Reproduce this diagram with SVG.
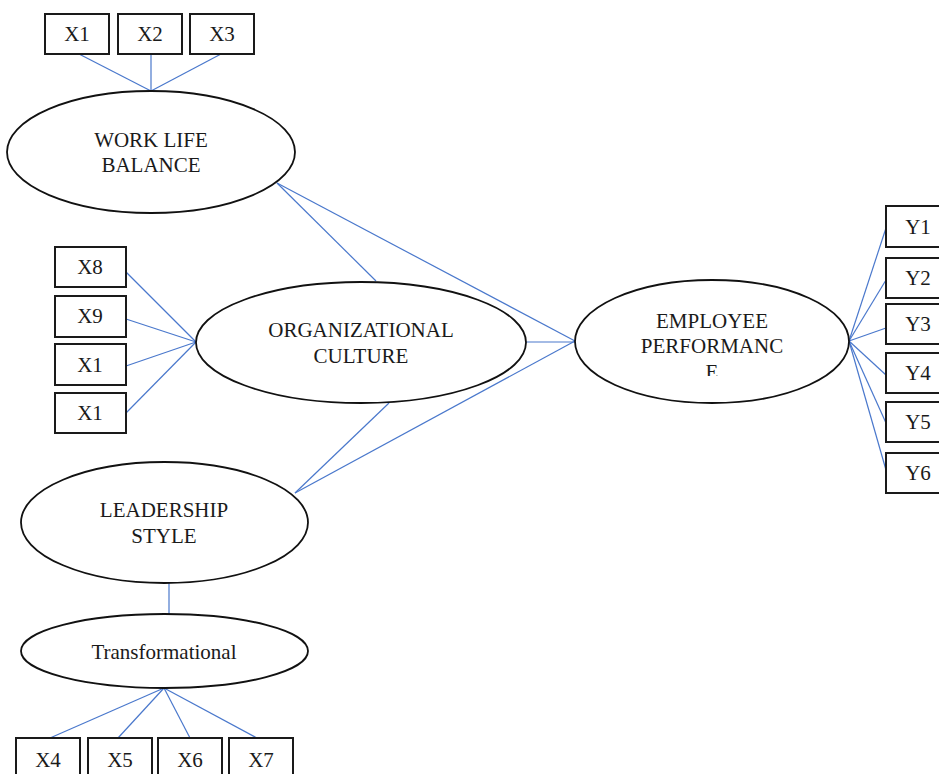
<svg xmlns="http://www.w3.org/2000/svg" width="939" height="774" viewBox="0 0 939 774">
<style>
.box{fill:#fff;stroke:#1a1a1a;stroke-width:2}
.ell{fill:#fff;stroke:#111;stroke-width:1.8}
.lbl{font-family:"Liberation Serif","Times New Roman",serif;font-size:21px;fill:#1a1a1a;text-anchor:middle}
.conn line{stroke:#4a78cc;stroke-width:1.2}
</style>
<defs>
<clipPath id="clipE"><rect x="570" y="280" width="290" height="96"/></clipPath>
</defs>
<rect width="939" height="774" fill="#fff"/>
<g class="conn" id="connectors">
<line x1="79" y1="54" x2="151" y2="91"/>
<line x1="151" y1="54" x2="151" y2="91"/>
<line x1="221" y1="54" x2="151" y2="91"/>
<line x1="277" y1="183" x2="376" y2="281"/>
<line x1="277" y1="183" x2="575" y2="341"/>
<line x1="126" y1="272" x2="196" y2="342"/>
<line x1="126" y1="319" x2="196" y2="342"/>
<line x1="126" y1="366" x2="196" y2="342"/>
<line x1="126" y1="413" x2="196" y2="342"/>
<line x1="526" y1="342" x2="575" y2="342"/>
<line x1="295" y1="493" x2="389" y2="403"/>
<line x1="295" y1="493" x2="575" y2="341"/>
<line x1="849" y1="341" x2="886" y2="228"/>
<line x1="849" y1="341" x2="886" y2="280"/>
<line x1="849" y1="341" x2="886" y2="328"/>
<line x1="849" y1="341" x2="886" y2="375"/>
<line x1="849" y1="341" x2="886" y2="423"/>
<line x1="849" y1="341" x2="886" y2="470"/>
<line x1="169" y1="583" x2="169" y2="614"/>
<line x1="164" y1="688" x2="50" y2="738"/>
<line x1="164" y1="688" x2="118" y2="738"/>
<line x1="164" y1="688" x2="190" y2="738"/>
<line x1="164" y1="688" x2="257" y2="738"/>
</g>
<g id="x1"><rect class="box" x="45" y="14" width="64" height="40"/><text class="lbl" x="77" y="41">X1</text></g>
<g id="x2"><rect class="box" x="118" y="14" width="64" height="40"/><text class="lbl" x="150" y="41">X2</text></g>
<g id="x3"><rect class="box" x="190" y="14" width="64" height="40"/><text class="lbl" x="222" y="41">X3</text></g>
<g id="wlb"><ellipse class="ell" cx="151" cy="152" rx="144" ry="61"/><text class="lbl" x="151" y="147">WORK LIFE</text><text class="lbl" x="151" y="172">BALANCE</text></g>
<g id="x8"><rect class="box" x="55" y="247" width="71" height="40"/><text class="lbl" x="90" y="274">X8</text></g>
<g id="x9"><rect class="box" x="55" y="296" width="71" height="41"/><text class="lbl" x="90" y="323">X9</text></g>
<g id="x10"><rect class="box" x="55" y="344" width="71" height="41"/><text class="lbl" x="90" y="372">X1</text></g>
<g id="x11"><rect class="box" x="55" y="393" width="71" height="40"/><text class="lbl" x="90" y="420">X1</text></g>
<g id="org"><ellipse class="ell" cx="361" cy="342.5" rx="165" ry="60.5"/><text class="lbl" x="361" y="337">ORGANIZATIONAL</text><text class="lbl" x="361" y="363">CULTURE</text></g>
<g id="emp"><ellipse class="ell" cx="712" cy="341.5" rx="137" ry="61.5"/><text class="lbl" x="712" y="328">EMPLOYEE</text><text class="lbl" x="712" y="353">PERFORMANC</text><text class="lbl" x="712" y="379" clip-path="url(#clipE)">E</text></g>
<g id="y1"><rect class="box" x="886" y="206" width="64" height="41"/><text class="lbl" x="918" y="234">Y1</text></g>
<g id="y2"><rect class="box" x="886" y="258" width="64" height="40"/><text class="lbl" x="918" y="285">Y2</text></g>
<g id="y3"><rect class="box" x="886" y="304" width="64" height="40"/><text class="lbl" x="918" y="331">Y3</text></g>
<g id="y4"><rect class="box" x="886" y="353" width="64" height="40"/><text class="lbl" x="918" y="380">Y4</text></g>
<g id="y5"><rect class="box" x="886" y="402" width="64" height="40"/><text class="lbl" x="918" y="429">Y5</text></g>
<g id="y6"><rect class="box" x="886" y="453" width="64" height="40"/><text class="lbl" x="918" y="480">Y6</text></g>
<g id="ls"><ellipse class="ell" cx="164.5" cy="522.5" rx="143.5" ry="60.5"/><text class="lbl" x="164" y="517">LEADERSHIP</text><text class="lbl" x="164" y="543">STYLE</text></g>
<g id="tf"><ellipse class="ell" cx="164.5" cy="651" rx="143.5" ry="37"/><text class="lbl" x="164" y="659">Transformational</text></g>
<g id="x4"><rect class="box" x="16" y="738" width="64" height="42"/><text class="lbl" x="48" y="767">X4</text></g>
<g id="x5"><rect class="box" x="88" y="738" width="64" height="42"/><text class="lbl" x="120" y="767">X5</text></g>
<g id="x6"><rect class="box" x="158" y="738" width="64" height="42"/><text class="lbl" x="190" y="767">X6</text></g>
<g id="x7"><rect class="box" x="229" y="738" width="64" height="42"/><text class="lbl" x="261" y="767">X7</text></g>
</svg>
